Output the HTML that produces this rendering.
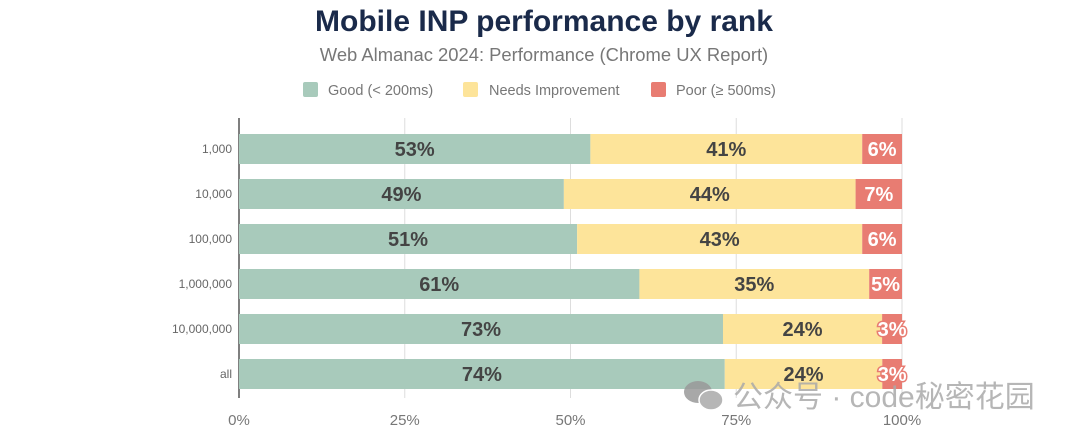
<!DOCTYPE html>
<html><head><meta charset="utf-8"><style>
body{margin:0;background:#fff;width:1080px;height:439px;overflow:hidden;font-family:"Liberation Sans","Noto Sans CJK SC",sans-serif}
</style></head><body>
<svg id="c" width="1080" height="439" style="position:absolute;left:0;top:0">
<text x="544" y="31" text-anchor="middle" font-size="30" font-weight="bold" fill="#1a2a4a">Mobile INP performance by rank</text>
<text x="544" y="61" text-anchor="middle" font-size="18.4" fill="#777">Web Almanac 2024: Performance (Chrome UX Report)</text>
<g font-size="14.5" fill="#777">
<g><rect x="303" y="82" width="15" height="15" rx="2" fill="#a8cabb"/><text x="328" y="95">Good (&lt; 200ms)</text></g>
<g><rect x="463" y="82" width="15" height="15" rx="2" fill="#fde49a"/><text x="489" y="95">Needs Improvement</text></g>
<g><rect x="651" y="82" width="15" height="15" rx="2" fill="#e87c72"/><text x="676" y="95">Poor (≥ 500ms)</text></g>
</g>
<g id="grid"></g><g id="bars"></g><g id="labels"></g>
<g opacity="0.85">
<ellipse cx="698" cy="392" rx="14" ry="11" fill="#999"/><ellipse cx="711" cy="400" rx="12" ry="10" fill="#aaa" stroke="#fff" stroke-width="1.5"/>
<text x="733" y="407" font-size="30" fill="#aaa">公众号 · code秘密花园</text>
</g>
</svg>
<script>
const categories=["1,000","10,000","100,000","1,000,000","10,000,000","all"];
const good=[53,49,51,61,73,74];
const needs=[41,44,43,35,24,24];
const poor=[6,7,6,5,3,3];
const ticks=[0,25,50,75,100];
const tickLabels=["0%","25%","50%","75%","100%"];
const NS="http://www.w3.org/2000/svg";
const x0=239,x1=902,plotTop=118,plotBottom=398,pitch=45,bh=30,firstY=134;
const xs=v=>x0+(x1-x0)*v/100;
const yRow=i=>firstY+i*pitch;
function mk(t,a,p){const e=document.createElementNS(NS,t);for(const k in a)e.setAttribute(k,a[k]);p.appendChild(e);return e;}
const grid=document.getElementById('grid'),bars=document.getElementById('bars'),labels=document.getElementById('labels');
ticks.forEach((t,i)=>{
 const l=mk('line',{x1:xs(t),x2:xs(t),y1:plotTop,y2:plotBottom,stroke:i==0?'#555':'#ddd','stroke-width':i==0?1.5:1},grid);
 
 
 const tx=mk('text',{x:xs(t),y:425,'text-anchor':'middle','font-size':15,fill:'#777'},grid);
 tx.textContent=tickLabels[i];
 
 
});
const series=[[good,'#a8cabb','good'],[needs,'#fde49a','needs'],[poor,'#e87c72','poor']];
categories.forEach((c,i)=>{
 const y=yRow(i);
 const tl=mk('text',{x:232,y:y+bh/2+4,'text-anchor':'end','font-size':12,fill:'#666'},labels);
 tl.textContent=c;
 
 
 const tot=good[i]+needs[i]+poor[i];let cum=0;
 series.forEach(([arr,col,nm],s)=>{
  const a=xs(cum/tot*100);cum+=arr[i];const b=xs(cum/tot*100);
  const r=mk('rect',{x:a,y:y,width:b-a,height:bh,fill:col},bars);
  
  
  const t=mk('text',{x:(a+b)/2,y:y+bh/2+7,'text-anchor':'middle','font-size':20,'font-weight':'bold',fill:s==2?'#fff':'#444'},labels);
  if(s==2){t.setAttribute('stroke','#e87c72');t.setAttribute('stroke-width','3');t.setAttribute('paint-order','stroke');}
  t.textContent=arr[i]+'%';
  
  
 });
});
</script>
</body></html>
